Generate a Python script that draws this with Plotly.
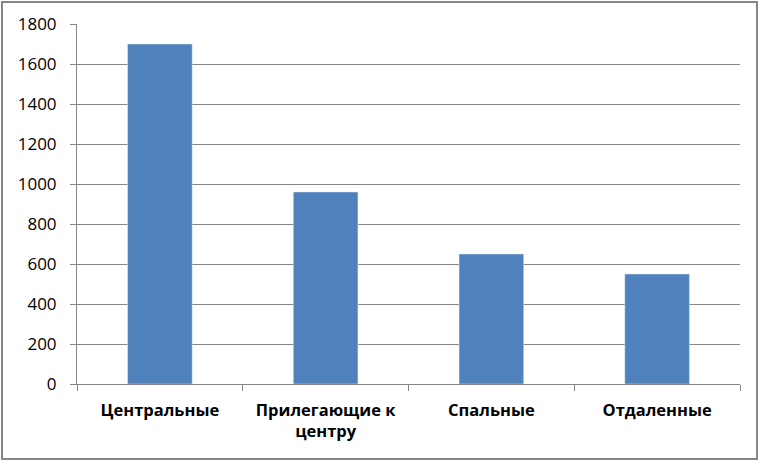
import plotly.graph_objects as go

categories = ["Центральные", "Прилегающие к<br>центру", "Спальные", "Отдаленные"]
values = [1700, 960, 650, 550]
y_ticks = [0, 200, 400, 600, 800, 1000, 1200, 1400, 1600, 1800]

W, H = 760, 462
L, R, T, B = 77, 20, 24, 78

fig = go.Figure(
    go.Bar(x=categories, y=values, marker_color="#4f81bd", width=0.39)
)

# рамка вокруг всей диаграммы (в долях области построения)
pw, ph = W - L - R, H - T - B
fig.add_shape(
    type="rect", xref="paper", yref="paper",
    x0=(2 - L) / pw, x1=(W - 3 - L) / pw,
    y0=(H - B - (H - 3)) / ph, y1=(H - B - 2) / ph,
    line=dict(color="#868686", width=2), fillcolor="rgba(0,0,0,0)", layer="below",
)

fig.update_layout(
    width=W, height=H,
    margin=dict(l=L, r=R, t=T, b=B),
    plot_bgcolor="white", paper_bgcolor="white",
    font=dict(family="Open Sans", size=17, color="black"),
    showlegend=False,
    xaxis=dict(
        showline=True, linecolor="#868686", linewidth=1,
        ticks="outside", ticklen=6, tickcolor="#868686",
        tickson="boundaries", ticklabelstandoff=11,
        tickfont=dict(size=16.5, family="Open Sans", weight="bold"),
    ),
    yaxis=dict(
        range=[0, 1800], tickvals=y_ticks,
        showline=True, linecolor="#868686", linewidth=1,
        ticks="outside", ticklen=6, tickcolor="#868686",
        showgrid=True, gridcolor="#868686", gridwidth=1,
        zeroline=False, ticklabelstandoff=10,
    ),
)

fig.write_html(
    "out.html",
    config={"displayModeBar": False},
    post_script="document.body.style.margin='0';",
)
